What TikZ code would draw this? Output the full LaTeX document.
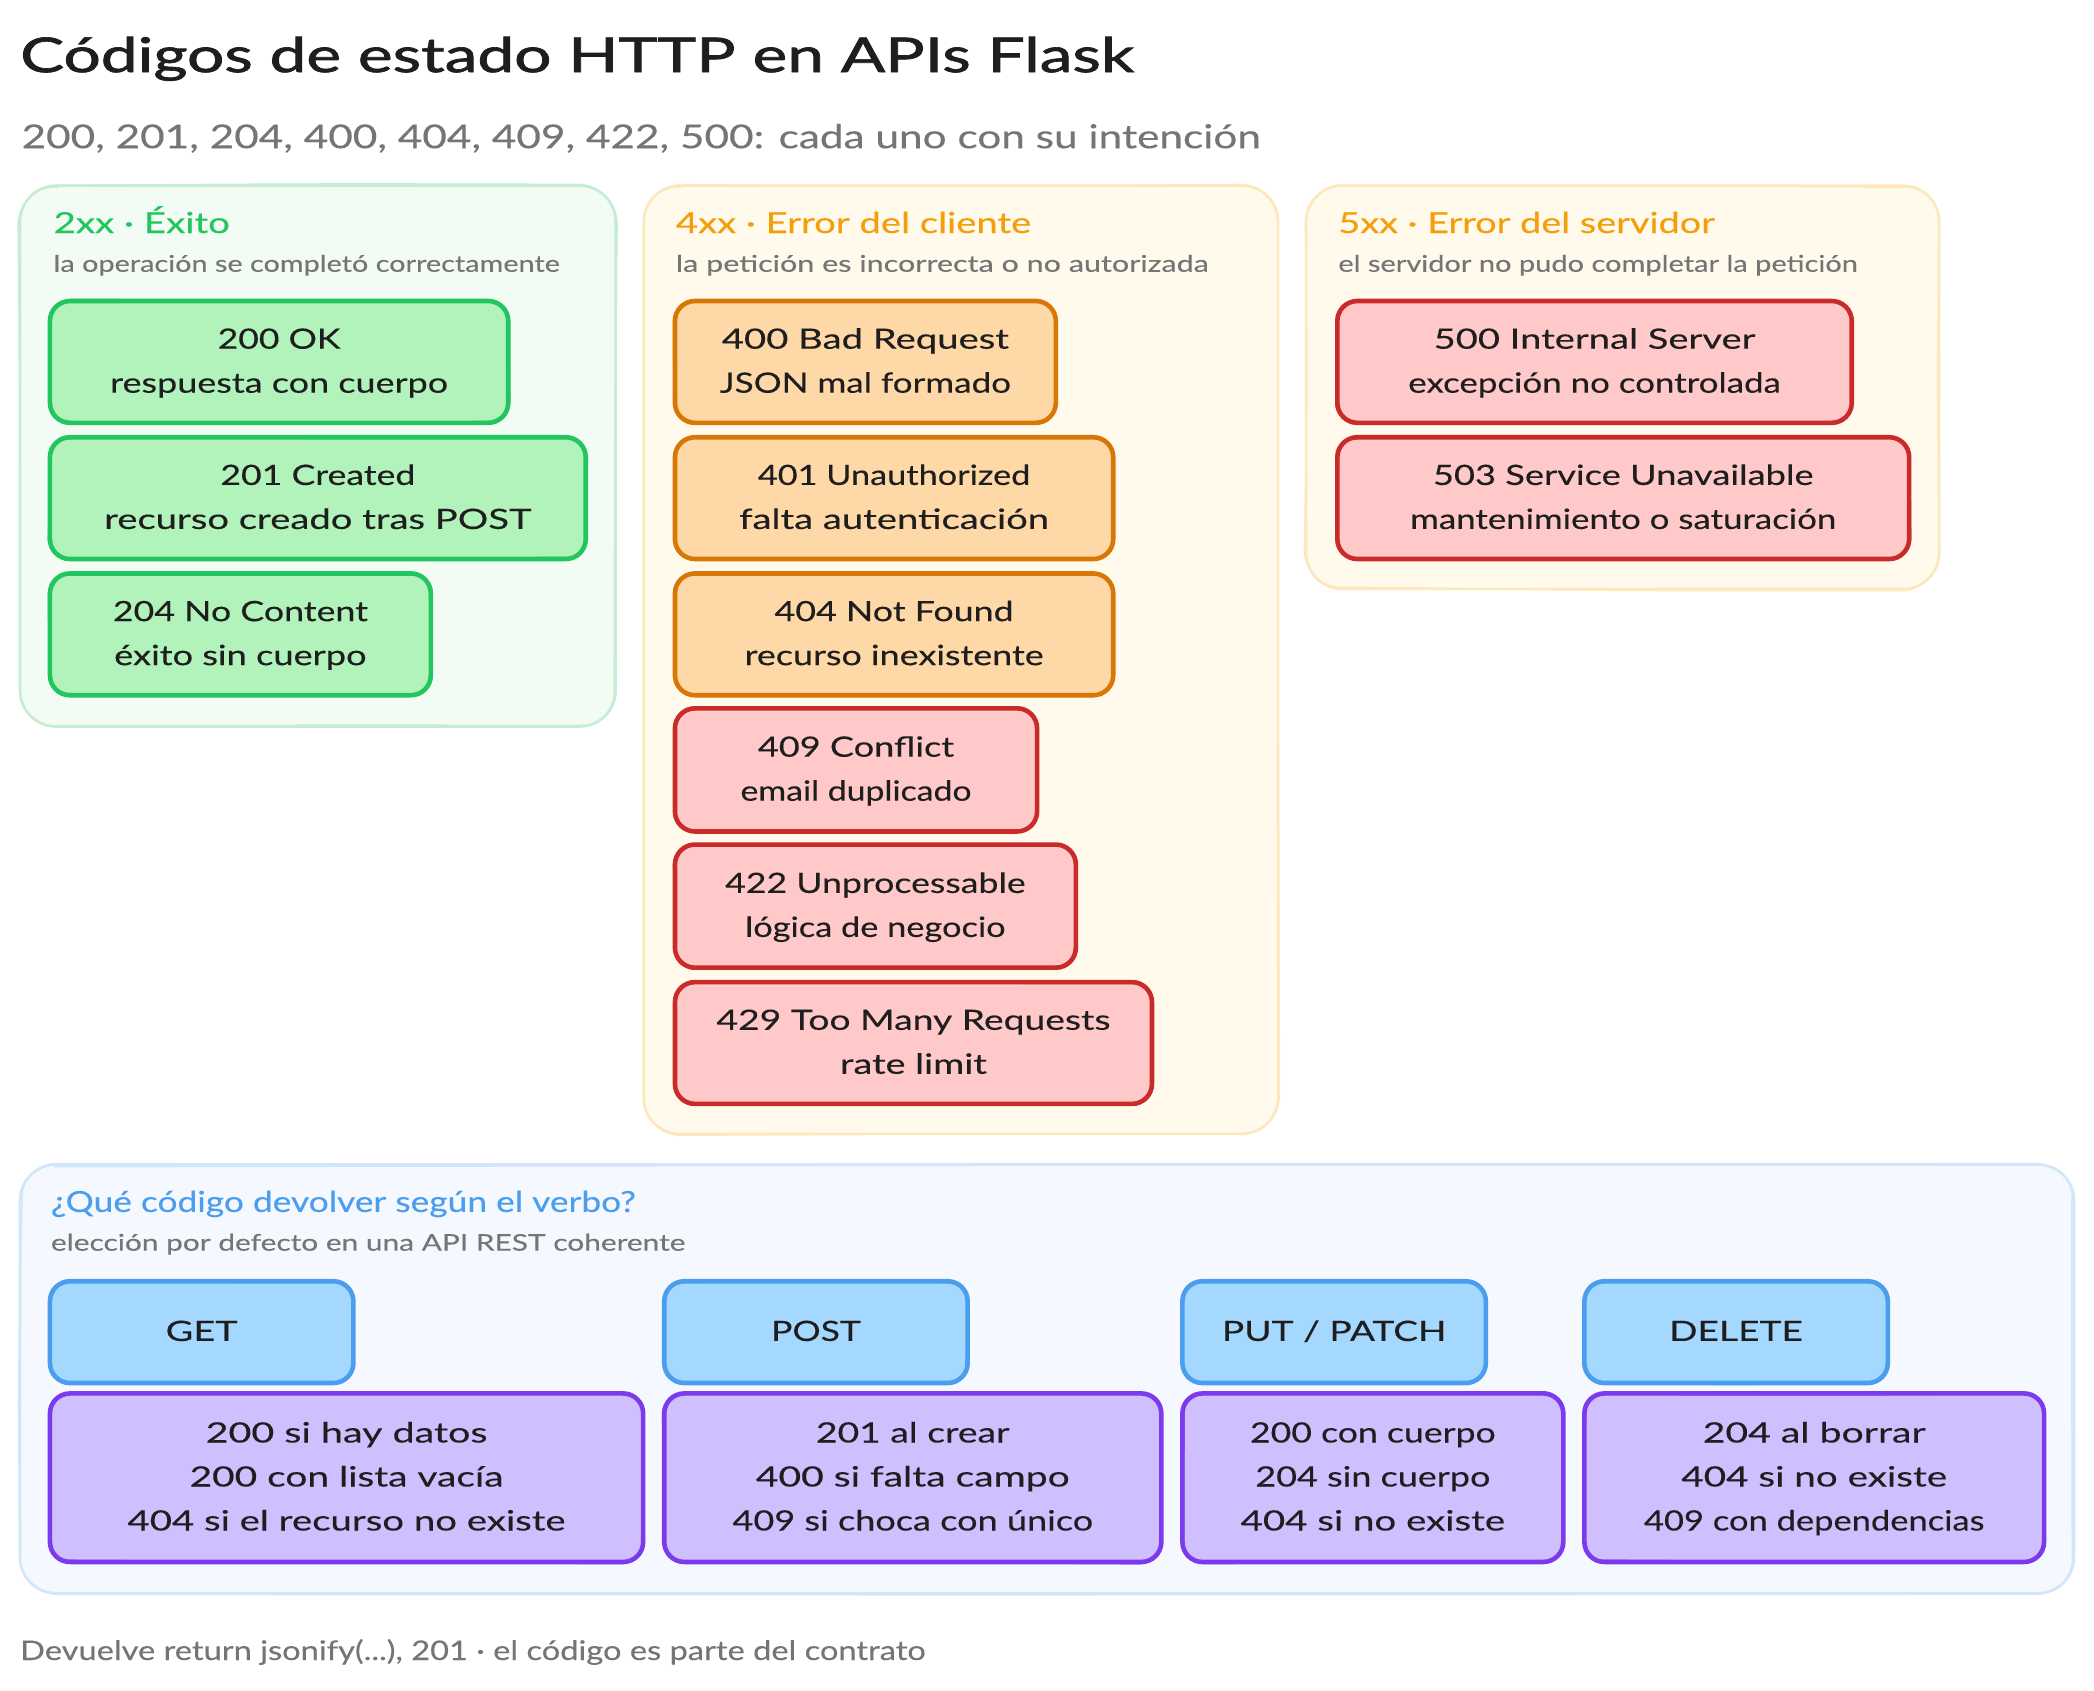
\documentclass[tikz,border=0pt]{standalone}
\usepackage{graphicx}
\usepackage{fontspec}
\setmainfont{Lato}[FakeBold=0.2]
\newfontfamily\titlefont{Lato}[FakeBold=1.3]
\definecolor{ink}{HTML}{1E1E1E}
\definecolor{greyt}{HTML}{757575}
\definecolor{gfill}{HTML}{B2F2BB}\definecolor{gline}{HTML}{22C55E}
\definecolor{ofill}{HTML}{FFD8A8}\definecolor{oline}{HTML}{D97706}
\definecolor{rfill}{HTML}{FFC9C9}\definecolor{rline}{HTML}{C92A2A}
\definecolor{bfill}{HTML}{A5D8FF}\definecolor{bline}{HTML}{4A9EED}
\definecolor{pfill}{HTML}{D0BFFF}\definecolor{pline}{HTML}{7C3AED}
\definecolor{amber}{HTML}{F59E0B}
\definecolor{pgf}{HTML}{F3FBF5}\definecolor{pgl}{HTML}{C5EDD3}
\definecolor{pyf}{HTML}{FFFAEC}\definecolor{pyl}{HTML}{FDE8BE}
\definecolor{pbf}{HTML}{F5F8FF}\definecolor{pbl}{HTML}{D2E6FB}
\newsavebox\fwbox
% set a line of text to a given width (in reference display units)
\newcommand\fw[2]{\sbox\fwbox{#2}\pgfmathsetmacro\fwr{#1*1.3355/\the\wd\fwbox}\strut\scalebox{\fwr}[1]{\usebox\fwbox}}
\tikzset{
  cbox/.style={draw=#1,line width=4.6pt,rounded corners=20pt,inner sep=0pt,align=center,text=ink,
    font=\fontsize{28}{44}\selectfont},
  panelbox/.style={draw=#1,line width=2.6pt,rounded corners=36pt,inner sep=0pt},
  hd/.style={anchor=base west,inner sep=0pt,font=\fontsize{29}{34}\selectfont},
  sb/.style={anchor=base west,inner sep=0pt,text=greyt,font=\fontsize{23}{28}\selectfont},
}
% second, slightly wandering pen stroke: #1 node, #2 colour, #3 width, #4 radius, #5 inset, #6 amplitude
\newcommand\jit{\skamp*rand*1pt}
\newcommand\sk[6]{%
  \def\skamp{#6}\def\ski{#5pt}%
  \pgfmathsetmacro\skrn{#4+#5}\def\skr{\skrn pt}%
  \pgfmathsetmacro\skqn{#5+0.45*#4}\def\skq{\skqn pt}%
  \draw[#2,line width=#3pt,line cap=round,line join=round]
    ([shift={(\skr+\jit,-\ski+\jit)}]#1.north west)
    .. controls ([shift={(3*\jit,-\ski+\jit)}]#1.north) .. ([shift={(-\skr+\jit,-\ski+\jit)}]#1.north east)
    .. controls ([shift={(-\skq,-\ski)}]#1.north east) and ([shift={(-\ski,-\skq)}]#1.north east) .. ([shift={(-\ski+\jit,-\skr+\jit)}]#1.north east)
    .. controls ([shift={(-\ski+\jit,\jit)}]#1.east) .. ([shift={(-\ski+\jit,\skr+\jit)}]#1.south east)
    .. controls ([shift={(-\ski,\skq)}]#1.south east) and ([shift={(-\skq,\ski)}]#1.south east) .. ([shift={(-\skr+\jit,\ski+\jit)}]#1.south east)
    .. controls ([shift={(3*\jit,\ski+\jit)}]#1.south) .. ([shift={(\skr+\jit,\ski+\jit)}]#1.south west)
    .. controls ([shift={(\skq,\ski)}]#1.south west) and ([shift={(\ski,\skq)}]#1.south west) .. ([shift={(\ski+\jit,\skr+\jit)}]#1.south west)
    .. controls ([shift={(\ski+\jit,\jit)}]#1.west) .. ([shift={(\ski+\jit,-\skr+\jit)}]#1.north west)
    .. controls ([shift={(\ski,-\skq)}]#1.north west) and ([shift={(\skq,-\ski)}]#1.north west) .. ([shift={(\skr+\jit,-\ski+\jit)}]#1.north west);
}
% #1 name #2 x1 #3 y1 #4 x2 #5 y2 #6 fill #7 line #8 text
\newcommand\bx[8]{%
  \pgfmathsetmacro\cx{(#2+#4)/2}\pgfmathsetmacro\cy{(#3+#5)/2}%
  \pgfmathsetmacro\wx{(#4-#2)*1.3355+1.6}\pgfmathsetmacro\hx{(#5-#3)*1.3355+1.6}%
  \node[cbox=#7,fill=#6,minimum width=\wx pt,minimum height=\hx pt] (#1) at (\cx,\cy) {#8};
  \sk{#1}{#7}{1.8}{20}{2.3}{1.5}
}
\newcommand\pn[7]{%
  \pgfmathsetmacro\cx{(#2+#4)/2}\pgfmathsetmacro\cy{(#3+#5)/2}%
  \pgfmathsetmacro\wx{(#4-#2)*1.3355}\pgfmathsetmacro\hx{(#5-#3)*1.3355}%
  \node[panelbox=#7,fill=#6,minimum width=\wx pt,minimum height=\hx pt] (#1) at (\cx,\cy) {};
  \sk{#1}{#7}{1.5}{36}{1.3}{2.2}
}
\begin{document}
\begin{tikzpicture}[x=1.3355pt,y=-1.3355pt]
\pgfmathsetseed{42}
\useasboundingbox[fill=white] (0,0) rectangle (1568,1266.2);
\node[anchor=base west,inner sep=0pt,text=ink,font=\fontsize{48}{52}\selectfont\titlefont] (title) at (15,54) {\fw{834}{Códigos de estado HTTP en APIs Flask}};
\node[anchor=base west,inner sep=0pt,text=greyt,font=\fontsize{33}{38}\selectfont] (subtitle) at (16,111) {\fw{928}{200, 201, 204, 400, 404, 409, 422, 500: cada uno con su intención}};

\pn{p2}{15}{139}{461}{544}{pgf}{pgl}
\pn{p4}{482}{139}{957}{849}{pyf}{pyl}
\pn{p5}{978}{139}{1452}{441}{pyf}{pyl}
\pn{pb}{15}{872}{1553}{1193}{pbf}{pbl}

\node[hd,text=gline] (h2) at (40,174.5) {\fw{132}{2xx · Éxito}};
\node[sb] (s2) at (40,203.5) {\fw{379}{la operación se completó correctamente}};
\node[hd,text=amber] (h4) at (506,174.5) {\fw{266}{4xx · Error del cliente}};
\node[sb] (s4) at (506,203.5) {\fw{399}{la petición es incorrecta o no autorizada}};
\node[hd,text=amber] (h5) at (1002,174.5) {\fw{282}{5xx · Error del servidor}};
\node[sb] (s5) at (1002,203.5) {\fw{389}{el servidor no pudo completar la petición}};
\node[hd,text=bline] (hb) at (38,907.5) {\fw{438}{¿Qué código devolver según el verbo?}};
\node[sb] (sbt) at (38,936.5) {\fw{475}{elección por defecto en una API REST coherente}};

\bx{a200}{38}{226}{380}{316}{gfill}{gline}{\fw{92}{200 OK}\\\fw{253}{respuesta con cuerpo}}
\bx{a201}{38}{328}{438}{418}{gfill}{gline}{\fw{146}{201 Created}\\\fw{320}{recurso creado tras POST}}
\bx{a204}{38}{430}{322}{520}{gfill}{gline}{\fw{191}{204 No Content}\\\fw{189}{éxito sin cuerpo}}

\bx{b400}{506}{226}{790}{316}{ofill}{oline}{\fw{215}{400 Bad Request}\\\fw{218}{JSON mal formado}}
\bx{b401}{506}{328}{833}{418}{ofill}{oline}{\fw{204}{401 Unauthorized}\\\fw{232}{falta autenticación}}
\bx{b404}{506}{430}{833}{520}{ofill}{oline}{\fw{179}{404 Not Found}\\\fw{224}{recurso inexistente}}
\bx{b409}{506}{531}{776}{622}{rfill}{rline}{\fw{147}{409 Conflict}\\\fw{173}{email duplicado}}
\bx{b422}{506}{633}{805}{724}{rfill}{rline}{\fw{225}{422 Unprocessable}\\\fw{195}{lógica de negocio}}
\bx{b429}{506}{736}{862}{826}{rfill}{rline}{\fw{295}{429 Too Many Requests}\\\fw{110}{rate limit}}

\bx{c500}{1002}{226}{1386}{316}{rfill}{rline}{\fw{241}{500 Internal Server}\\\fw{279}{excepción no controlada}}
\bx{c503}{1002}{328}{1429}{418}{rfill}{rline}{\fw{285}{503 Service Unavailable}\\\fw{319}{mantenimiento o saturación}}

\bx{vget}{38}{960}{264}{1035}{bfill}{bline}{\fw{54}{GET}}
\bx{vpost}{498}{960}{724}{1035}{bfill}{bline}{\fw{67}{POST}}
\bx{vput}{886}{960}{1112}{1035}{bfill}{bline}{\fw{168}{PUT / PATCH}}
\bx{vdel}{1187}{960}{1413}{1035}{bfill}{bline}{\fw{100}{DELETE}}

\bx{rget}{38}{1044}{481}{1169}{pfill}{pline}{\fw{211}{200 si hay datos}\\\fw{235}{200 con lista vacía}\\\fw{328}{404 si el recurso no existe}}
\bx{rpost}{498}{1044}{869}{1169}{pfill}{pline}{\fw{145}{201 al crear}\\\fw{235}{400 si falta campo}\\\fw{270}{409 si choca con único}}
\bx{rput}{886}{1044}{1170}{1169}{pfill}{pline}{\fw{184}{200 con cuerpo}\\\fw{176}{204 sin cuerpo}\\\fw{198}{404 si no existe}}
\bx{rdel}{1187}{1044}{1530}{1169}{pfill}{pline}{\fw{167}{204 al borrar}\\\fw{199}{404 si no existe}\\\fw{255}{409 con dependencias}}

\node[anchor=base west,inner sep=0pt,text=greyt,font=\fontsize{27}{32}\selectfont] (foot) at (15,1243) {\fw{678}{Devuelve return jsonify(...), 201 · el código es parte del contrato}};
\end{tikzpicture}
\end{document}
